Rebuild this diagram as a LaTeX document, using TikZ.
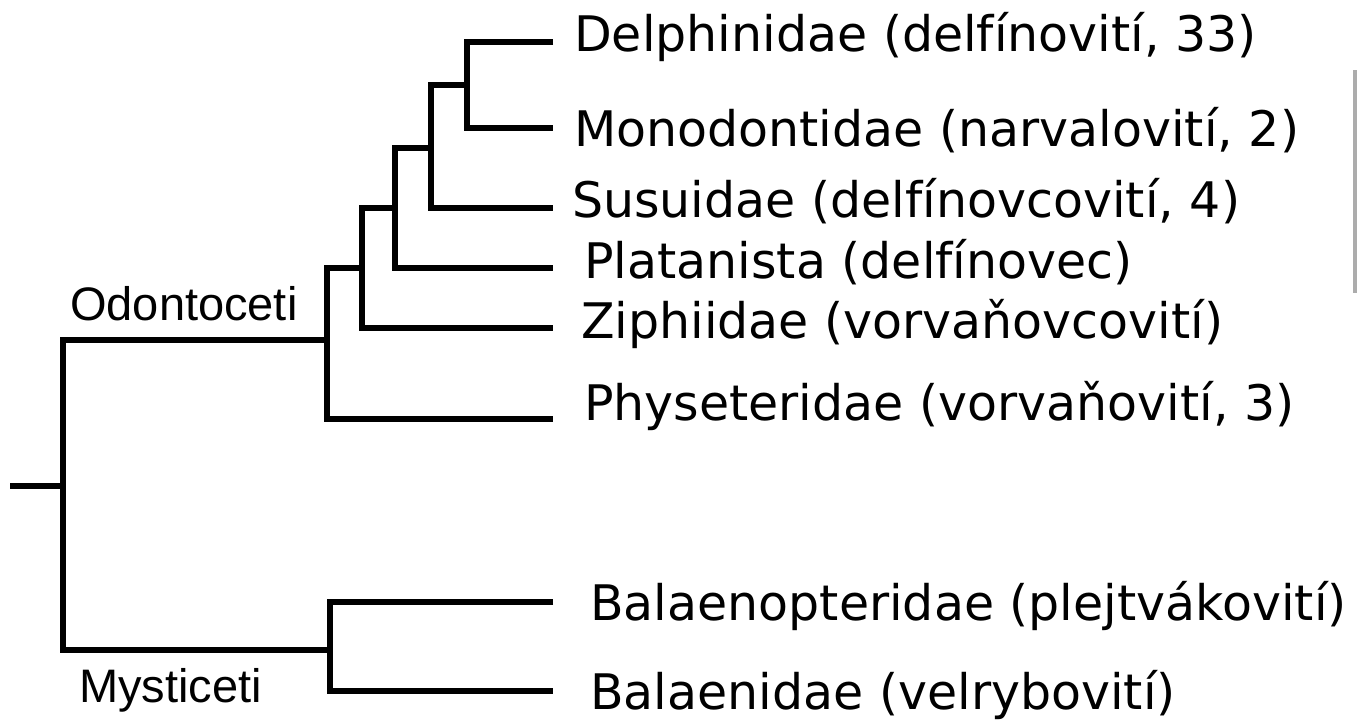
\documentclass[tikz,border=0pt]{standalone}
\usepackage{fontspec}
\newfontfamily\leaffont{DejaVu Sans}
\newfontfamily\cladefont{Liberation Sans}
\begin{document}
\begin{tikzpicture}[x=1pt,y=-1pt,
  branch/.style={line width=5.5pt, line join=miter},
  leaf/.style={anchor=base west, inner sep=0pt, font=\leaffont\fontsize{49}{55}\selectfont},
  clade/.style={anchor=base west, inner sep=0pt, font=\cladefont\fontsize{47}{52}\selectfont}]
\useasboundingbox (0,0) rectangle (1359,722);
% internal nodes
\coordinate (root) at (10,486);
\coordinate (r) at (63,486);
\coordinate (odo) at (327,340);
\coordinate (mys) at (330,650);
\coordinate (n4) at (362,268);
\coordinate (n3) at (395,208);
\coordinate (n2) at (431,148);
\coordinate (n1) at (467,85);
% leaf ends
\coordinate (eDel) at (553,42);
\coordinate (eMon) at (553,128);
\coordinate (eSus) at (553,208);
\coordinate (ePla) at (553,268);
\coordinate (eZip) at (553,328);
\coordinate (ePhy) at (553,419);
\coordinate (eBpt) at (553,602);
\coordinate (eBal) at (553,691);
% branches
\draw[branch] (root) -- (r);
\draw[branch] (odo) -| (r) |- (mys);
\draw[branch] (n4) -| (odo) |- (ePhy);
\draw[branch] (n3) -| (n4) |- (eZip);
\draw[branch] (n2) -| (n3) |- (ePla);
\draw[branch] (n1) -| (n2) |- (eSus);
\draw[branch] (eDel) -| (n1) |- (eMon);
\draw[branch] (eBpt) -| (mys) |- (eBal);
% leaf labels
\node[leaf] (Del) at (574,52) {Delphinidae (delfínovití, 33)};
\node[leaf] (Mon) at (574,147) {Monodontidae (narvalovití, 2)};
\node[leaf] (Sus) at (572,218) {Susuidae (delfínovcovití, 4)};
\node[leaf] (Pla) at (584,278) {Platanista (delfínovec)};
\node[leaf] (Zip) at (581,338) {Ziphiidae (vorvaňovcovití)};
\node[leaf] (Phy) at (584,420) {Physeteridae (vorvaňovití, 3)};
\node[leaf] (Bpt) at (590,620) {Balaenopteridae (plejtvákovití)};
\node[leaf] (Bal) at (590,709) {Balaenidae (velrybovití)};
% clade labels
\node[clade] (Odo) at (70,320) {Odontoceti};
\node[clade] (Mys) at (79,702) {Mysticeti};
% grey edge
\fill[gray!65] (1353,70) rectangle (1357,293);
\end{tikzpicture}
\end{document}
